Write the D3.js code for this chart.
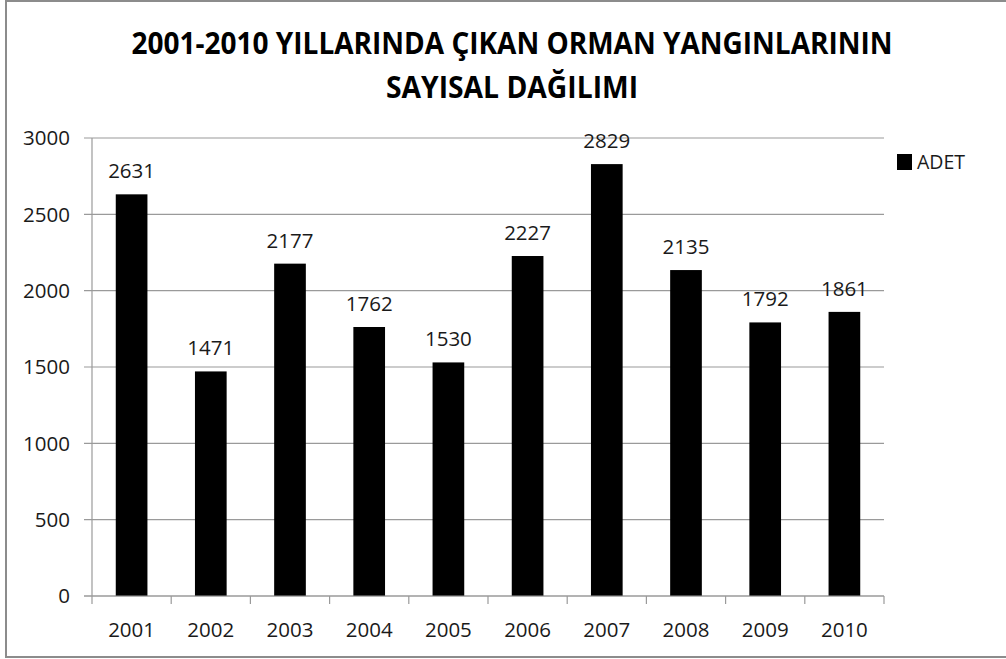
<!DOCTYPE html>
<html><head><meta charset="utf-8">
<script src="https://cdn.jsdelivr.net/npm/d3@7"></script>
<style>body{margin:0;background:#fff}svg{display:block}</style>
</head><body>
<svg id="c" width="1006" height="659"></svg>
<script>
const categories = ["2001","2002","2003","2004","2005","2006","2007","2008","2009","2010"];
const values = [2631,1471,2177,1762,1530,2227,2829,2135,1792,1861];
const yTicks = [0,500,1000,1500,2000,2500,3000];
const seriesName = "ADET";
const titleLines = ["2001-2010 YILLARINDA ÇIKAN ORMAN YANGINLARININ","SAYISAL DAĞILIMI"];

const svg = d3.select("#c");
const font = "'Open Sans', 'DejaVu Sans', sans-serif";
const textCol = "#1a1a1a";

// frame
svg.append("rect").attr("x",6).attr("y",1).attr("width",1010).attr("height",656)
  .attr("fill","#fff").attr("stroke","#8c8c8c").attr("stroke-width",2);

const L=92, R=884, T=138, B=596;
const x = d3.scaleBand().domain(categories).range([L,R]).paddingInner(0.6).paddingOuter(0.3);
const y = d3.scaleLinear().domain([0,3000]).range([B,T]);

// gridlines
svg.append("g").selectAll("line").data(yTicks).join("line")
  .attr("x1",L-8).attr("x2",R).attr("y1",d=>y(d)).attr("y2",d=>y(d))
  .attr("stroke","#9a9a9a").attr("stroke-width",1.2);

// y axis line
svg.append("line").attr("x1",L).attr("x2",L).attr("y1",T).attr("y2",B)
  .attr("stroke","#9a9a9a").attr("stroke-width",1.2);

// y tick labels
svg.append("g").selectAll("text").data(yTicks).join("text")
  .attr("x",L-22).attr("y",d=>y(d)).attr("dy","0.35em").attr("text-anchor","end")
  .attr("font-family",font).attr("font-size",20.5).attr("fill",textCol).text(d=>d);

// x axis ticks
const bounds = d3.range(categories.length+1).map(i=>L+i*(R-L)/categories.length);
svg.append("g").selectAll("line").data(bounds).join("line")
  .attr("x1",d=>d).attr("x2",d=>d).attr("y1",B).attr("y2",B+8)
  .attr("stroke","#9a9a9a").attr("stroke-width",1.2);

// bars
svg.append("g").selectAll("rect").data(values).join("rect")
  .attr("x",(d,i)=>x(categories[i])).attr("width",x.bandwidth())
  .attr("y",d=>y(d)).attr("height",d=>B-y(d)).attr("fill","#000");

// x axis line (over bars)
svg.append("line").attr("x1",L-8).attr("x2",R).attr("y1",B).attr("y2",B)
  .attr("stroke","#9a9a9a").attr("stroke-width",1.2);

// x labels
svg.append("g").selectAll("text").data(categories).join("text")
  .attr("x",d=>x(d)+x.bandwidth()/2).attr("y",637).attr("text-anchor","middle")
  .attr("font-family",font).attr("font-size",20.5).attr("fill",textCol).text(d=>d);

// data labels
svg.append("g").selectAll("text").data(values).join("text")
  .attr("x",(d,i)=>x(categories[i])+x.bandwidth()/2).attr("y",d=>y(d)-16)
  .attr("text-anchor","middle")
  .attr("font-family",font).attr("font-size",20.5).attr("fill",textCol).text(d=>d);

// title
const tl = [{t:titleLines[0],y:54,w:761},{t:titleLines[1],y:98,w:252}];
svg.append("g").selectAll("text").data(tl).join("text")
  .attr("x",512).attr("y",d=>d.y).attr("text-anchor","middle")
  .attr("font-family",font).attr("font-weight","bold").attr("font-size",31)
  .attr("textLength",d=>d.w).attr("lengthAdjust","spacingAndGlyphs")
  .attr("fill","#000").text(d=>d.t);

// legend
svg.append("rect").attr("x",897).attr("y",154).attr("width",15).attr("height",16).attr("fill","#000");
svg.append("text").attr("x",917).attr("y",162).attr("dy","0.35em")
  .attr("font-family",font).attr("font-size",19.5).attr("fill",textCol).text(seriesName);
</script>
</body></html>
